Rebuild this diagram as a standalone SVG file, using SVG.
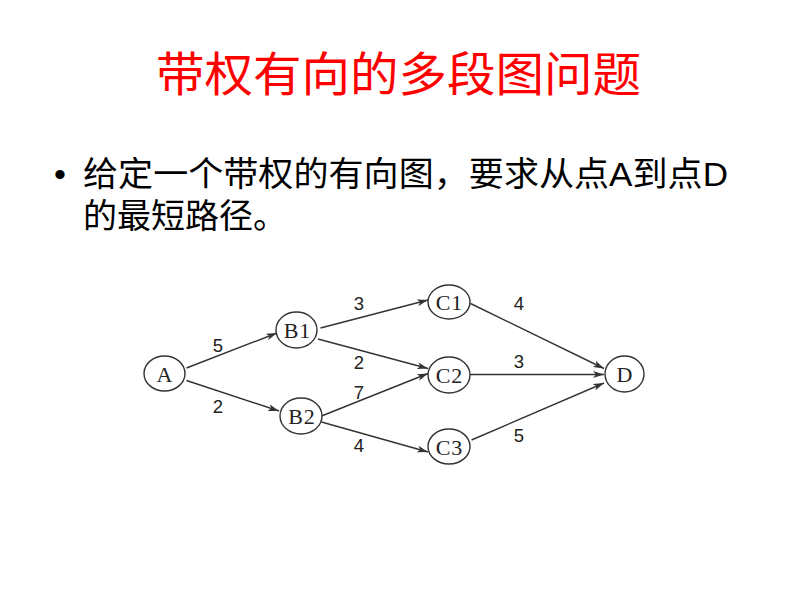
<svg xmlns="http://www.w3.org/2000/svg" width="800" height="600" viewBox="0 0 800 600">
<style>
.title{font-family:"Noto Sans CJK SC","Liberation Serif",serif;font-size:47px;fill:#ff0000}
.body{font-family:"Liberation Sans","Noto Sans CJK SC",sans-serif;font-size:34px;fill:#000}
.node ellipse{fill:#fff;stroke:#333;stroke-width:1.4}
.node text{font-family:"Liberation Serif","DejaVu Serif",serif;font-size:22px;fill:#222;text-anchor:middle;dominant-baseline:central;letter-spacing:1px}
.edge{stroke:#333;stroke-width:1.4;fill:none;marker-end:url(#arr)}
.lbl{font-family:"Liberation Sans",Arial,sans-serif;font-size:18.5px;fill:#222;text-anchor:middle;dominant-baseline:central}
</style>
<defs>
<marker id="arr" markerWidth="11" markerHeight="7" refX="11" refY="3.5" orient="auto" markerUnits="userSpaceOnUse">
<path d="M0,0 L11,3.5 L0,7 L3,3.5 Z" fill="#333"/>
</marker>
</defs>
<rect width="800" height="600" fill="#fff"/>
<text class="title" x="156" y="91" textLength="485" lengthAdjust="spacingAndGlyphs">带权有向的多段图问题</text>
<text class="body" x="54" y="186">•</text>
<text class="body" x="83" y="186" textLength="645" lengthAdjust="spacingAndGlyphs">给定一个带权的有向图，要求从点A到点D</text>
<text class="body" x="83" y="228">的最短路径。</text>
<g id="connectors">
<line class="edge" x1="186.5" y1="368" x2="277" y2="333"/>
<line class="edge" x1="186.5" y1="380.5" x2="279" y2="411"/>
<line class="edge" x1="320.5" y1="328" x2="428" y2="300"/>
<line class="edge" x1="318" y1="339" x2="428" y2="368.5"/>
<line class="edge" x1="321.5" y1="416" x2="428" y2="373.5"/>
<line class="edge" x1="321.5" y1="422" x2="428" y2="452"/>
<line class="edge" x1="470.5" y1="303.5" x2="604" y2="368.5"/>
<line class="edge" x1="470" y1="374.5" x2="604" y2="374.5"/>
<line class="edge" x1="471.5" y1="440" x2="604" y2="383"/>
<text class="lbl" x="218" y="345">5</text>
<text class="lbl" x="218" y="406">2</text>
<text class="lbl" x="359" y="303">3</text>
<text class="lbl" x="359" y="362">2</text>
<text class="lbl" x="359" y="392">7</text>
<text class="lbl" x="359" y="445">4</text>
<text class="lbl" x="519" y="303">4</text>
<text class="lbl" x="519" y="361">3</text>
<text class="lbl" x="519" y="435">5</text>
</g>
<g id="A" class="node"><ellipse cx="164.5" cy="373.5" rx="20.5" ry="17.5"/><text x="165" y="374">A</text></g>
<g id="B1" class="node"><ellipse cx="296.5" cy="330" rx="20.5" ry="18"/><text x="297.5" y="330.5">B1</text></g>
<g id="B2" class="node"><ellipse cx="301" cy="416" rx="21" ry="18"/><text x="302" y="416.5">B2</text></g>
<g id="C1" class="node"><ellipse cx="449" cy="302" rx="21" ry="17"/><text x="449.5" y="302.5">C1</text></g>
<g id="C2" class="node"><ellipse cx="449" cy="375" rx="21" ry="18"/><text x="449.5" y="375.5">C2</text></g>
<g id="C3" class="node"><ellipse cx="449" cy="446.5" rx="21" ry="17.5"/><text x="449.5" y="447">C3</text></g>
<g id="D" class="node"><ellipse cx="624.5" cy="374" rx="19.5" ry="18"/><text x="625" y="374.5">D</text></g>
</svg>
